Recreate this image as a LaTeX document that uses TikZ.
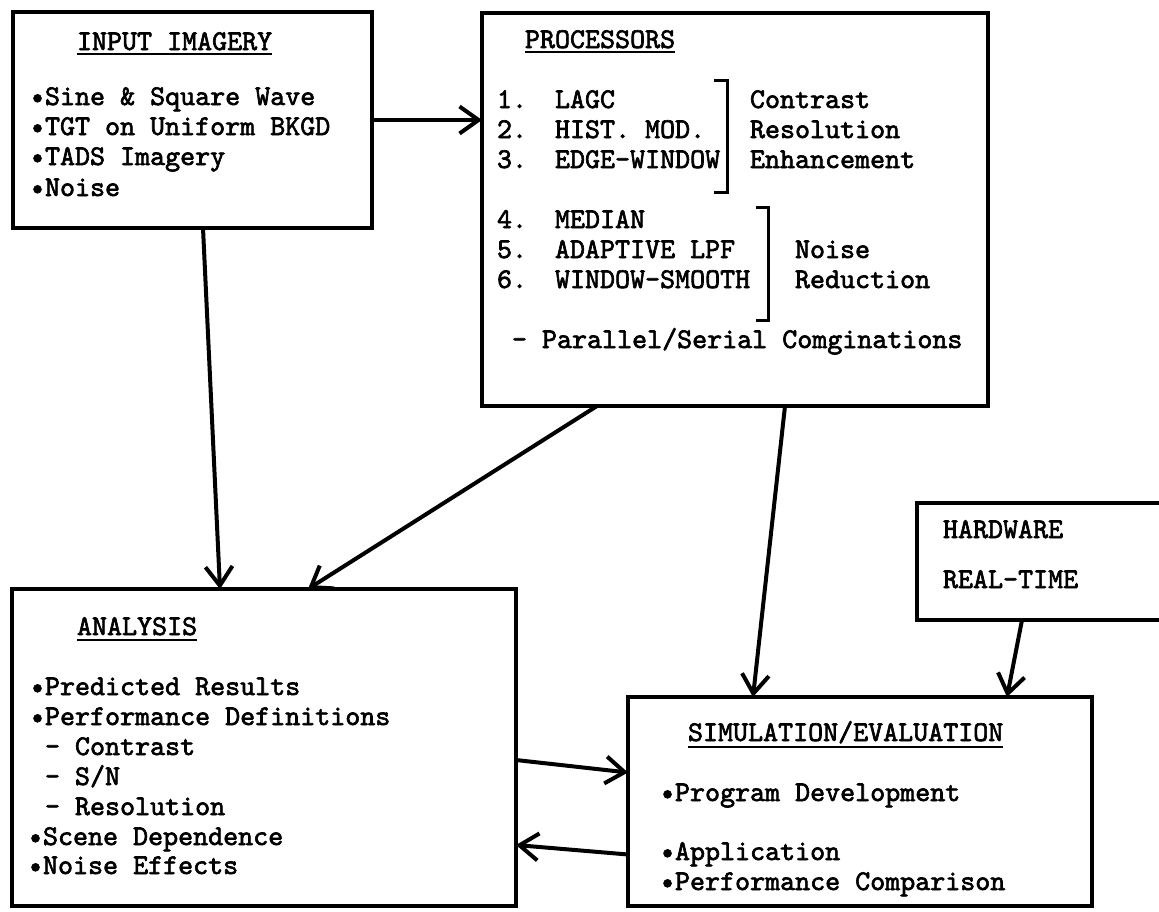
\documentclass[tikz,border=0pt]{standalone}
\usepackage{fontspec}
\newfontfamily\tw{lmmono10-regular}[Extension=.otf, FakeBold=2.2]
\usetikzlibrary{arrows.meta}
\begin{document}
\begin{tikzpicture}[x=1pt,y=-1pt,
  box/.style={draw, line width=4.5pt, inner sep=0pt, outer sep=0pt},
  txt/.style={anchor=base west, inner sep=0pt, outer sep=0pt, font=\fontsize{28.6pt}{30pt}\tw\selectfont},
  ul/.style={line width=2pt},
  brk/.style={line width=3pt},
  arr/.style={line width=4pt, -{Straight Barb[length=19pt,width=27pt]}}]
\useasboundingbox (0,0) rectangle (1159,911);
\clip (0,0) rectangle (1159,911);
% boxes
\node[box, minimum width=359pt, minimum height=216pt] (inp) at (192.5,120) {};
\node[box, minimum width=506pt, minimum height=393pt] (proc) at (735,209.5) {};
\node[box, minimum width=300pt, minimum height=117pt] (hw) at (1067,561.5) {};
\node[box, minimum width=504pt, minimum height=317pt] (ana) at (264,747.5) {};
\node[box, minimum width=464pt, minimum height=209pt] (sim) at (860,801.5) {};
% input imagery
\node[txt] (t1) at (77,50) {INPUT IMAGERY};
\draw[ul] ([yshift=-4pt]t1.base west) -- ([yshift=-4pt]t1.base east);
\node[txt] (i1) at (30,105) {•Sine \& Square Wave};
\node[txt] (i2) at (30,135) {•TGT on Uniform BKGD};
\node[txt] (i3) at (30,165) {•TADS Imagery};
\node[txt] (i4) at (30,196) {•Noise};
% processors
\node[txt] (t2) at (525,48) {PROCESSORS};
\draw[ul] ([yshift=-4pt]t2.base west) -- ([yshift=-4pt]t2.base east);
\node[txt] (n1) at (497,108) {1.};
\node[txt] (n2) at (497,138) {2.};
\node[txt] (n3) at (497,168) {3.};
\node[txt] (n4) at (497,228) {4.};
\node[txt] (n5) at (497,258) {5.};
\node[txt] (n6) at (497,288) {6.};
\node[txt] (p1) at (555,108) {LAGC};
\node[txt] (p2) at (555,138) {HIST. MOD.};
\node[txt] (p3) at (555,168) {EDGE-WINDOW};
\node[txt] (p4) at (555,228) {MEDIAN};
\node[txt] (p5) at (555,258) {ADAPTIVE LPF};
\node[txt] (p6) at (555,288) {WINDOW-SMOOTH};
\node[txt] (c1) at (750,108) {Contrast};
\node[txt] (c2) at (750,138) {Resolution};
\node[txt] (c3) at (750,168) {Enhancement};
\node[txt] (c4) at (795,258) {Noise};
\node[txt] (c5) at (795,288) {Reduction};
\node[txt] (pc) at (512,348) {- Parallel/Serial Comginations};
\coordinate (b1a) at (714,80);
\coordinate (b1b) at (727,80);
\coordinate (b1c) at (727,192);
\coordinate (b1d) at (714,192);
\draw[brk] (b1a) -- (b1b) -- (b1c) -- (b1d);
\coordinate (b2a) at (756,207);
\coordinate (b2b) at (768,207);
\coordinate (b2c) at (768,320);
\coordinate (b2d) at (756,320);
\draw[brk] (b2a) -- (b2b) -- (b2c) -- (b2d);
% hardware
\node[txt] (h1) at (943,538) {HARDWARE};
\node[txt] (h2) at (943,588) {REAL-TIME};
% analysis
\node[txt] (t3) at (77,635) {ANALYSIS};
\draw[ul] ([yshift=-5pt]t3.base west) -- ([yshift=-5pt]t3.base east);
\node[txt] (a1) at (30,695) {•Predicted Results};
\node[txt] (a2) at (30,725) {•Performance Definitions};
\node[txt] (a3) at (45,755) {- Contrast};
\node[txt] (a4) at (45,785) {- S/N};
\node[txt] (a5) at (45,815) {- Resolution};
\node[txt] (a6) at (28,845) {•Scene Dependence};
\node[txt] (a7) at (28,874) {•Noise Effects};
% simulation
\node[txt] (t4) at (688,741) {SIMULATION/EVALUATION};
\draw[ul] ([yshift=-6pt]t4.base west) -- ([yshift=-6pt]t4.base east);
\node[txt] (s1) at (660,801) {•Program Development};
\node[txt] (s2) at (660,860) {•Application};
\node[txt] (s3) at (660,890) {•Performance Comparison};
% connectors
\draw[arr] (inp.east) -- (proc.west |- inp.east);
\draw[arr] ([xshift=10.5pt]inp.south) -- ([xshift=-44pt]ana.north);
\draw[arr] ([xshift=-138pt]proc.south) -- ([xshift=44pt]ana.north);
\draw[arr] ([xshift=50pt]proc.south) -- ([xshift=-107pt]sim.north);
\draw[arr] ([xshift=-45pt]hw.south) -- ([xshift=147pt]sim.north);
\draw[arr] ([yshift=-12.5pt]ana.east) -- ([yshift=29pt]sim.west);
\draw[arr] ([yshift=-53pt]sim.west) -- ([yshift=-97.5pt]ana.east);
\end{tikzpicture}
\end{document}
